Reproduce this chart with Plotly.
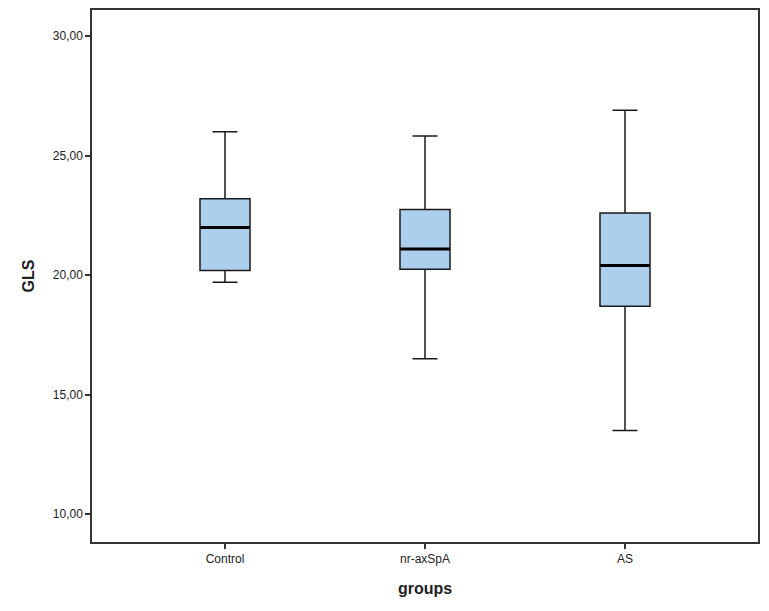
import plotly.graph_objects as go

groups = ["Control", "nr-axSpA", "AS"]
upper = [26.0, 25.83, 26.9]
q3 = [23.2, 22.75, 22.6]
median = [22.0, 21.1, 20.4]
q1 = [20.2, 20.25, 18.7]
lower = [19.7, 16.5, 13.5]

xpos = list(range(len(groups)))
box_w = 0.25

fig = go.Figure()
fig.add_trace(go.Box(
    x=xpos, q1=q1, median=median, q3=q3, lowerfence=lower, upperfence=upper,
    width=box_w, whiskerwidth=0.5,
    fillcolor="#ACCFEE", line=dict(color="#1a1a1a", width=1.5),
    boxpoints=False, hoverinfo="skip", showlegend=False,
))
for i, m in zip(xpos, median):
    fig.add_trace(go.Scatter(
        x=[i - box_w / 2, i + box_w / 2], y=[m, m], mode="lines",
        line=dict(color="#000000", width=3), showlegend=False, hoverinfo="skip",
    ))

# page body has an 8px default margin, so the figure is offset by 8px
fig.update_layout(
    width=761, height=603,
    margin=dict(l=84, r=11, t=0, b=69),
    paper_bgcolor="white", plot_bgcolor="white",
    separators=",.",
    font=dict(family="Liberation Sans, Arial, sans-serif", color="#222222", size=12),
    xaxis=dict(
        range=[-0.665, 2.665], tickvals=xpos, ticktext=groups,
        showgrid=False, zeroline=False, showline=True, mirror=True,
        linecolor="#333333", linewidth=1.5, ticks="outside", ticklen=5,
        tickcolor="#333333", tickwidth=1.5,
        title=dict(text="<b>groups</b>", font=dict(size=16, color="#222222"), standoff=18),
    ),
    yaxis=dict(
        range=[8.83, 31.1], tickvals=[10, 15, 20, 25, 30], tickformat=".2f",
        showgrid=False, zeroline=False, showline=True, mirror=True,
        linecolor="#333333", linewidth=1.5, ticks="outside", ticklen=5,
        tickcolor="#333333", tickwidth=1.5,
        title=dict(text="<b>GLS</b>", font=dict(size=16, color="#222222"), standoff=14),
    ),
)

fig.write_html("out.html")
